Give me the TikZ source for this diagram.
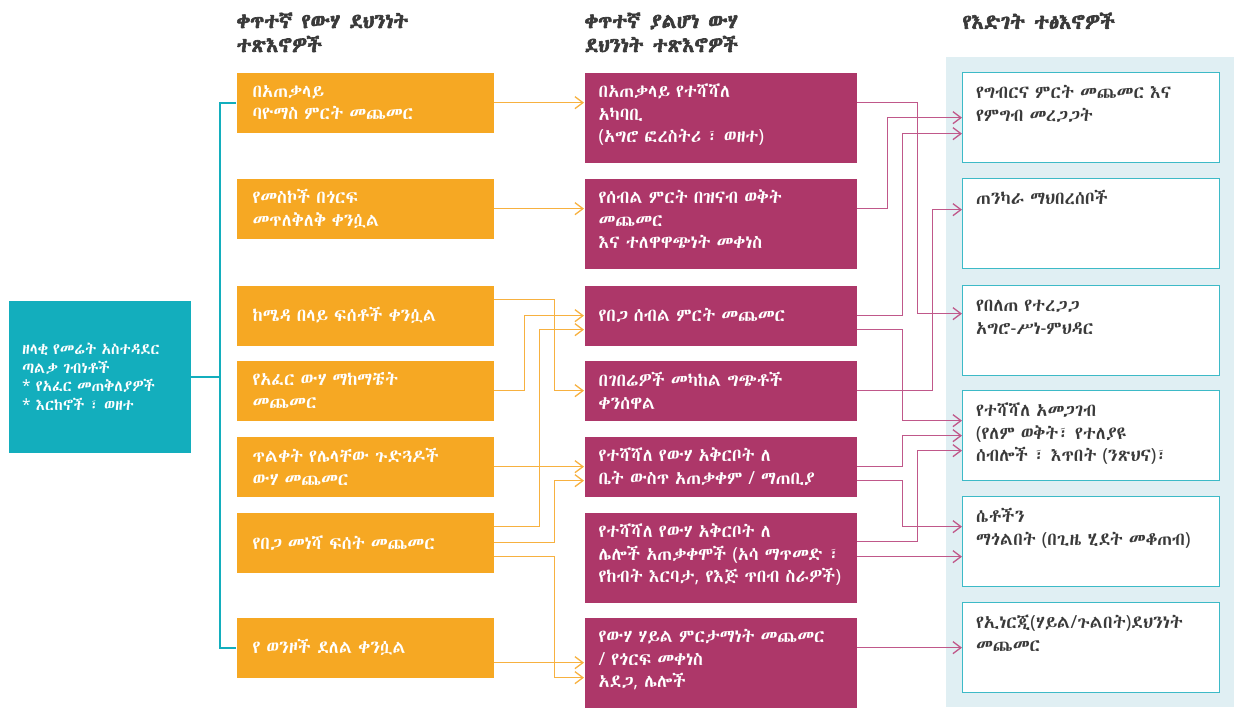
\documentclass[tikz,border=0pt]{standalone}
\usepackage{fontspec}
\usetikzlibrary{arrows.meta}

\IfFontExistsTF{Abyssinica SIL}
  {\newfontfamily\ethfont{Abyssinica SIL}
   \newfontfamily\ethbold{Abyssinica SIL}[FakeBold=3]}
  {\newfontfamily\ethfont{Noto Sans Ethiopic}[BoldFont={Noto Sans Ethiopic}]
   \newfontfamily\ethbold{Noto Sans Ethiopic}[FakeBold=3]}
\newfontfamily\latfont{Noto Sans}

% latin punctuation taken from Noto Sans
\newXeTeXintercharclass\latclass
\XeTeXcharclass`\(=\latclass \XeTeXcharclass`\)=\latclass
\XeTeXcharclass`\*=\latclass \XeTeXcharclass`\/=\latclass
\XeTeXcharclass`\,=\latclass \XeTeXcharclass`\-=\latclass
\XeTeXinterchartoks 0 \latclass = {\latfont}
\XeTeXinterchartoks 4095 \latclass = {\latfont}
\XeTeXinterchartoks \latclass 0 = {\ethfont}
\XeTeXinterchartoks \latclass 4095 = {\ethfont}
\newcommand\amh{\XeTeXinterchartokenstate=1 \ethfont}

\definecolor{tealbox}{HTML}{13AEBD}
\definecolor{orangebox}{HTML}{F6A823}
\definecolor{plum}{HTML}{AD3769}
\definecolor{panel}{HTML}{E0EFF3}
\definecolor{outline}{HTML}{3DBAC7}
\definecolor{ink}{HTML}{3A3A3A}
\definecolor{orangeline}{HTML}{F7B140}
\definecolor{plumline}{HTML}{C0588A}

\begin{document}
\begin{tikzpicture}[
                x = 1pt, y = -1pt, % pixel grid, y downwards
                > = {Straight Barb[length=8pt,width=12pt]}, % open arrow head
                line width = 1.3pt
            ]

            \tikzstyle{every node}=[inner sep = 0pt, anchor = north west,
            font = \amh\fontsize{18}{22.5}\selectfont]
            \tikzstyle{header}=[text = ink, align = left,
            font = \ethbold\fontsize{20.5}{24}\selectfont]
            \tikzstyle{source}=[fill = tealbox, text = white, minimum width = 182pt,
            minimum height = 152pt, text width = 155pt, align = left,
            font = \amh\fontsize{15.5}{18.5}\selectfont]
            \tikzstyle{direct}=[fill = orangebox, text = white, minimum width = 257pt,
            minimum height = 60pt, text width = 225pt, align = left]
            \tikzstyle{indirect}=[fill = plum, text = white, minimum width = 272pt,
            minimum height = 60pt, text width = 244pt, align = left]
            \tikzstyle{tall}=[minimum height = 90pt, inner ysep = 5pt,
            text height = 20pt, text depth = 60pt]
            \tikzstyle{outcome}=[draw = outline, fill = white, text = ink,
            minimum width = 257pt, minimum height = 90pt, text width = 230pt,
            align = left, inner ysep = 5pt, text height = 21pt, text depth = 59pt]
            \tikzstyle{trunk}=[draw = tealbox, line width = 1.8pt]
            \tikzstyle{feed}=[draw = orangeline, ->]
            \tikzstyle{link}=[draw = plumline, ->]

            \fill[panel] (946,57) rectangle (1234,707);

            \node (h1) [header] at (236,12) {ቀጥተኛ የውሃ ደህንነት\\ተጽእኖዎች};
            \node (h2) [header] at (584,12) {ቀጥተኛ ያልሆነ ውሃ\\ደህንነት ተጽእኖዎች};
            \node (h3) [header] at (962,12) {የእድገት ተፅእኖዎች};

            \node (src) [source] at (8,300) {ዘላቂ የመሬት አስተዳደር\\ጣልቃ ገብነቶች\\{}* የአፈር መጠቅለያዎች\\{}* እርከኖች ፣ ወዘተ};

            \node (d1) [direct] at (236,72) {በአጠቃላይ\\ባዮማስ ምርት መጨመር};
            \node (d2) [direct] at (236,178) {የመስኮች በጎርፍ\\መጥለቅለቅ ቀንሷል};
            \node (d3) [direct] at (236,285) {ከሜዳ በላይ ፍሰቶች ቀንሷል};
            \node (d4) [direct] at (236,360) {የአፈር ውሃ ማከማቼት\\መጨመር};
            \node (d5) [direct] at (236,436) {ጥልቀት የሌላቸው ጉድጓዶች\\ውሃ መጨመር};
            \node (d6) [direct] at (236,512) {የበጋ መነሻ ፍሰት መጨመር};
            \node (d7) [direct] at (236,617) {የ ወንዞች ደለል ቀንሷል};

            \node (i1) [indirect, tall] at (584,72) {በአጠቃላይ የተሻሻለ\\አካባቢ\\(አግሮ ፎረስትሪ ፣ ወዘተ)};
            \node (i2) [indirect, tall] at (584,178) {የሰብል ምርት በዝናብ ወቅት\\መጨመር\\እና ተለዋዋጭነት መቀነስ};
            \node (i3) [indirect] at (584,285) {የበጋ ሰብል ምርት መጨመር};
            \node (i4) [indirect] at (584,360) {በገበሬዎች መካከል ግጭቶች\\ቀንሰዋል};
            \node (i5) [indirect] at (584,436) {የተሻሻለ የውሃ አቅርቦት ለ\\ቤት ውስጥ አጠቃቀም / ማጠቢያ};
            \node (i6) [indirect, tall] at (584,512) {የተሻሻለ የውሃ አቅርቦት ለ\\ሌሎች አጠቃቀሞች (አሳ ማጥመድ ፣\\የከብት እርባታ, የእጅ ጥበብ ስራዎች)};
            \node (i7) [indirect, tall] at (584,617) {የውሃ ሃይል ምርታማነት መጨመር\\/ የጎርፍ መቀነስ\\አደጋ, ሌሎች};

            \node (o1) [outcome] at (962,72) {የግብርና ምርት መጨመር እና\\የምግብ መረጋጋት};
            \node (o2) [outcome] at (962,178) {ጠንካራ ማህበረሰቦች};
            \node (o3) [outcome] at (962,285) {የበለጠ የተረጋጋ\\አግሮ-ሥነ-ምህዳር};
            \node (o4) [outcome] at (962,390) {የተሻሻለ አመጋገብ\\(የለም ወቅት፣ የተለያዩ\\ሰብሎች ፣ እጥበት (ንጽህና)፣};
            \node (o5) [outcome] at (962,496) {ሴቶችን\\ማጎልበት (በጊዜ ሂደት መቆጠብ)};
            \node (o6) [outcome] at (962,602) {የኢነርጂ(ሃይል/ጉልበት)ደህንነት\\መጨመር};

            % bracket from the source box
            \draw[trunk] (d1.west) -- ++(-16,0) coordinate (t) |- (d7.west);
            \draw[trunk] (src.east) -- (src.east -| t);

            % direct -> indirect
            \draw[feed] (d1.east) -- (i1.west |- d1.east);
            \draw[feed] (d2.east) -- (i2.west |- d2.east);
            \draw[feed] ([yshift=16pt]d3.east) -- ++(60,0) |- (i4.west);
            \draw[feed] (d4.east) -- ++(30,0) |- (i3.west);
            \draw[feed] ([yshift=16pt]d6.east) -- ++(45,0) |- ([yshift=-14pt]i3.west);
            \draw[feed] (d5.east) -- (i5.west |- d5.east);
            \draw[feed] (d6.east) -- ++(60,0) |- ([yshift=-14pt]i5.west);
            \draw[feed] ([yshift=-14pt]d6.east) -- ++(60,0) |- ([yshift=-15pt]i7.west);
            \draw[feed] ([yshift=-15pt]d7.east) -- (i7.west);

            % indirect -> outcomes
            \draw[link] ([yshift=15pt]i1.east) -- ++(60,0) |- ([yshift=17pt]o3.west);
            \draw[link] ([yshift=15pt]i2.east) -- ++(30,0) |- (o1.west);
            \draw[link] (i3.east) -- ++(45,0) |- ([yshift=-16pt]o1.west);
            \draw[link] ([yshift=-14pt]i3.east) -- ++(45,0) |- ([yshift=15pt]o4.west);
            \draw[link] (i4.east) -- ++(75,0) |- ([yshift=14pt]o2.west);
            \draw[link] (i5.east) -- ++(45,0) |- (o4.west);
            \draw[link] ([yshift=-14pt]i5.east) -- ++(45,0) |- ([yshift=15pt]o5.west);
            \draw[link] ([yshift=16pt]i6.east) -- ++(60,0) |- ([yshift=-15pt]o4.west);
            \draw[link] ([yshift=-15pt]o5.west -| i6.east) -- ([yshift=-15pt]o5.west);
            \draw[link] ([yshift=15pt]i7.east) -- (o6.west);

            \useasboundingbox (0,0) rectangle (1234,707);

        \end{tikzpicture}
\end{document}
